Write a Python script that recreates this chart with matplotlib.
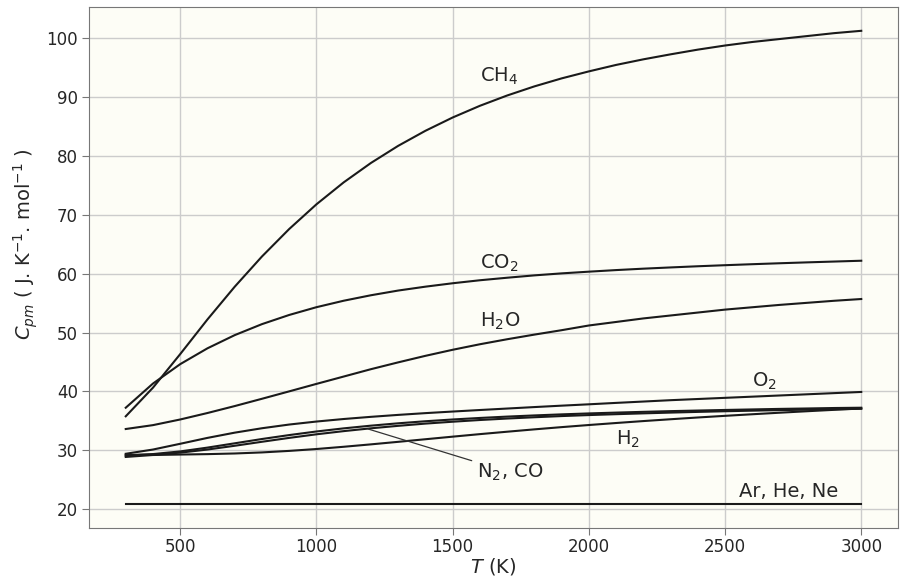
import matplotlib
matplotlib.use('Agg')
import matplotlib.pyplot as plt

T = list(range(300, 3001, 100))

cp_ch4 = [35.76, 40.63, 46.34, 52.23, 57.79, 62.93, 67.60, 71.80, 75.53, 78.83,
          81.74, 84.30, 86.56, 88.55, 90.30, 91.85, 93.21, 94.40, 95.50, 96.45,
          97.30, 98.10, 98.80, 99.40, 99.90, 100.40, 100.90, 101.30]
cp_co2 = [37.22, 41.33, 44.63, 47.32, 49.56, 51.43, 52.99, 54.31, 55.41, 56.34,
          57.14, 57.80, 58.38, 58.89, 59.32, 59.72, 60.06, 60.35, 60.62, 60.86,
          61.07, 61.27, 61.45, 61.62, 61.78, 61.93, 62.07, 62.21]
cp_h2o = [33.60, 34.26, 35.22, 36.32, 37.50, 38.74, 40.00, 41.27, 42.52, 43.77,
          44.93, 46.04, 47.07, 48.01, 48.86, 49.65, 50.40, 51.20, 51.80, 52.40,
          52.90, 53.40, 53.90, 54.30, 54.70, 55.05, 55.40, 55.70]
cp_o2 = [29.39, 30.11, 31.09, 32.09, 32.98, 33.73, 34.36, 34.87, 35.30, 35.67,
         36.00, 36.30, 36.57, 36.83, 37.08, 37.33, 37.57, 37.80, 38.04, 38.27,
         38.50, 38.70, 38.90, 39.10, 39.30, 39.50, 39.70, 39.90]
cp_n2 = [29.12, 29.25, 29.58, 30.11, 30.75, 31.43, 32.09, 32.70, 33.24, 33.72,
         34.14, 34.52, 34.84, 35.13, 35.38, 35.60, 35.80, 35.97, 36.12, 36.26,
         36.39, 36.51, 36.62, 36.72, 36.81, 36.89, 36.97, 37.04]
cp_co = [29.14, 29.34, 29.79, 30.44, 31.17, 31.90, 32.57, 33.18, 33.71, 34.17,
         34.57, 34.92, 35.22, 35.48, 35.71, 35.91, 36.09, 36.25, 36.39, 36.52,
         36.64, 36.74, 36.84, 36.93, 37.02, 37.09, 37.17, 37.22]
cp_h2 = [28.85, 29.18, 29.26, 29.33, 29.44, 29.62, 29.88, 30.20, 30.58, 30.99,
         31.42, 31.86, 32.30, 32.73, 33.14, 33.54, 33.92, 34.28, 34.62, 34.95,
         35.26, 35.56, 35.84, 36.11, 36.37, 36.62, 36.86, 37.09]
cp_mono = [20.8] * len(T)

series = [cp_ch4, cp_co2, cp_h2o, cp_o2, cp_n2, cp_co, cp_h2, cp_mono]

# label text, x, y (data coords)
labels = [('CH$_4$', 1600, 92.6), ('CO$_2$', 1600, 60.9), ('H$_2$O', 1600, 51.0),
          ('O$_2$', 2600, 40.8), ('H$_2$', 2100, 30.9), ('Ar, He, Ne', 2550, 22.1)]

fig = plt.figure(figsize=(9.05, 5.8), dpi=100)
ax = fig.add_axes([0.0983, 0.0897, 0.894, 0.898])
ax.set_facecolor('#fdfdf6')
ax.grid(True, color='#cccccc', lw=1)
ax.set_axisbelow(True)

for ys in series:
    ax.plot(T, ys, color='#1a1a1a', lw=1.5)

for txt, x, y in labels:
    ax.text(x, y, txt, fontsize=14, color='#262626', ha='left', va='baseline')

ax.annotate('N$_2$, CO', xy=(1190, 33.6), xytext=(1590, 25.3), fontsize=14,
            color='#262626', ha='left', va='baseline',
            arrowprops=dict(arrowstyle='-', color='#333333', lw=0.9, shrinkA=2, shrinkB=0))

ax.set_xlabel('$T$ (K)', fontsize=14, color='#262626', labelpad=0)
ax.set_ylabel('$C_{pm}$ ( J. K$^{-1}$. mol$^{-1}$ )', fontsize=14, color='#262626')
ax.yaxis.set_label_coords(-0.061, 0.545)
ax.tick_params(labelsize=12, colors='#262626', length=5, color='#777777', pad=3)
ax.tick_params(axis='x', pad=2)
for s in ax.spines.values():
    s.set_color('#777777')

plt.savefig('out.png')
